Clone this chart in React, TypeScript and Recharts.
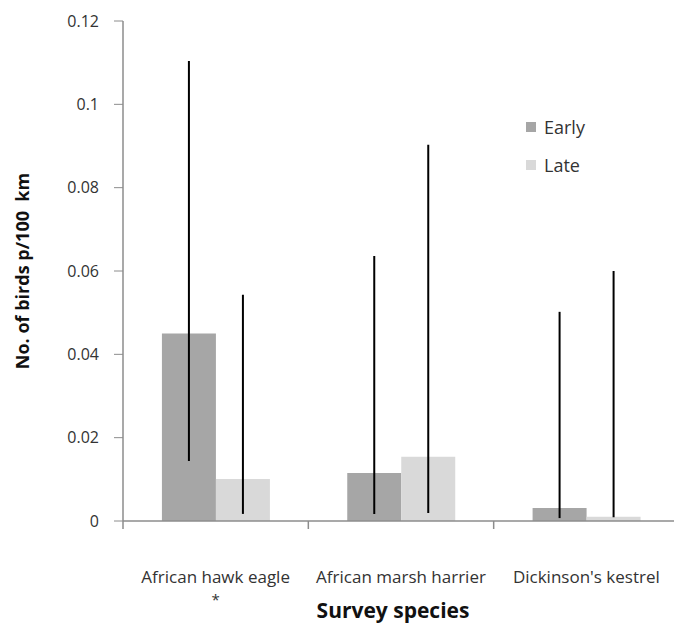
import { Bar, BarChart, ErrorBar, XAxis, YAxis } from "recharts"

const species = ["African hawk eagle", "African marsh harrier", "Dickinson's kestrel"]
const footnotes = ["*", "", ""]
const early = [0.045, 0.0115, 0.0031]
const late = [0.0101, 0.0154, 0.001]
const earlyLow = [0.0144, 0.0017, 0.0007]
const earlyHigh = [0.1104, 0.0636, 0.0502]
const lateLow = [0.0017, 0.0019, 0.0009]
const lateHigh = [0.0543, 0.0903, 0.06]
const yTicks = [0, 0.02, 0.04, 0.06, 0.08, 0.1, 0.12]

const FONT = "'Open Sans', sans-serif"
const EARLY = "#a6a6a6"
const LATE = "#d9d9d9"
const AXIS = "#8c8c8c"

const CHART_W = 680
const PLOT_LEFT = 123
const PLOT_RIGHT = 1
const CAT_W = (CHART_W - PLOT_LEFT - PLOT_RIGHT) / species.length

const data = species.map((name, i) => ({
  name,
  note: footnotes[i],
  early: early[i],
  late: late[i],
  earlyErr: [early[i] - earlyLow[i], earlyHigh[i] - early[i]],
  lateErr: [late[i] - lateLow[i], lateHigh[i] - late[i]]
}))

type TickProps = {
  x?: number
  y?: number
  index?: number
  payload?: { value: string }
}

function SpeciesTick({ x = 0, y = 0, index = 0, payload }: TickProps) {
  const left = x - CAT_W / 2
  return (
    <g>
      <line x1={left} x2={left} y1={y} y2={y + 8} stroke={AXIS} strokeWidth={1.5} />
      <text x={x} y={y + 62} textAnchor="middle" fill="#333" fontSize={17} fontFamily={FONT}>
        {payload?.value}
      </text>
      {data[index]?.note ? (
        <text x={x} y={y + 84} textAnchor="middle" fill="#333" fontSize={15} fontFamily={FONT}>
          {data[index].note}
        </text>
      ) : null}
    </g>
  )
}

function LegendBox() {
  const items = [
    { label: "Early", color: EARLY },
    { label: "Late", color: LATE }
  ]
  return (
    <div style={{ position: "absolute", left: 526, top: 108, fontFamily: FONT, fontSize: 18, color: "#333" }}>
      {items.map((item) => (
        <div key={item.label} style={{ display: "flex", alignItems: "center", height: 38 }}>
          <span style={{ width: 10, height: 10, background: item.color, marginRight: 8 }} />
          {item.label}
        </div>
      ))}
    </div>
  )
}

function YTitle({ viewBox }: { viewBox?: { x: number; y: number; width: number; height: number } }) {
  const cy = (viewBox?.y ?? 0) + (viewBox?.height ?? 0) / 2
  return (
    <text
      x={0}
      y={0}
      transform={`translate(29, ${cy}) rotate(-90)`}
      textAnchor="middle"
      fontSize={18}
      fontWeight="bold"
      fontFamily={FONT}
      fill="#111"
      style={{ whiteSpace: "pre" }}
    >
      No. of birds p/100  km
    </text>
  )
}

export default function App() {
  return (
    <div style={{ position: "absolute", left: 0, top: 0, width: 674, height: 625, overflow: "hidden", background: "#fff" }}>
      <BarChart
        width={CHART_W}
        height={625}
        data={data}
        margin={{ top: 21, right: PLOT_RIGHT, bottom: 0, left: 0 }}
        barCategoryGap="21%"
        barGap={0}
      >
        <XAxis
          dataKey="name"
          height={104}
          axisLine={{ stroke: AXIS, strokeWidth: 1.5 }}
          tickLine={false}
          tickSize={0}
          tickMargin={0}
          interval={0}
          tick={<SpeciesTick />}
          label={{
            value: "Survey species",
            position: "insideBottom",
            offset: 7,
            fontSize: 21,
            fontWeight: "bold",
            fontFamily: FONT,
            fill: "#111",
            dx: -8
          }}
        />
        <YAxis
          width={PLOT_LEFT}
          domain={[0, 0.12]}
          ticks={yTicks}
          axisLine={{ stroke: AXIS, strokeWidth: 1.5 }}
          tickLine={{ stroke: AXIS }}
          tickSize={9}
          tickMargin={15}
          tick={{ fill: "#333", fontSize: 16, fontFamily: FONT }}
          label={<YTitle />}
        />
        <Bar dataKey="early" fill={EARLY} isAnimationActive={false}>
          <ErrorBar dataKey="earlyErr" width={0} stroke="#000" strokeWidth={2} direction="y" isAnimationActive={false} />
        </Bar>
        <Bar dataKey="late" fill={LATE} isAnimationActive={false}>
          <ErrorBar dataKey="lateErr" width={0} stroke="#000" strokeWidth={2} direction="y" isAnimationActive={false} />
        </Bar>
      </BarChart>
      <LegendBox />
    </div>
  )
}
